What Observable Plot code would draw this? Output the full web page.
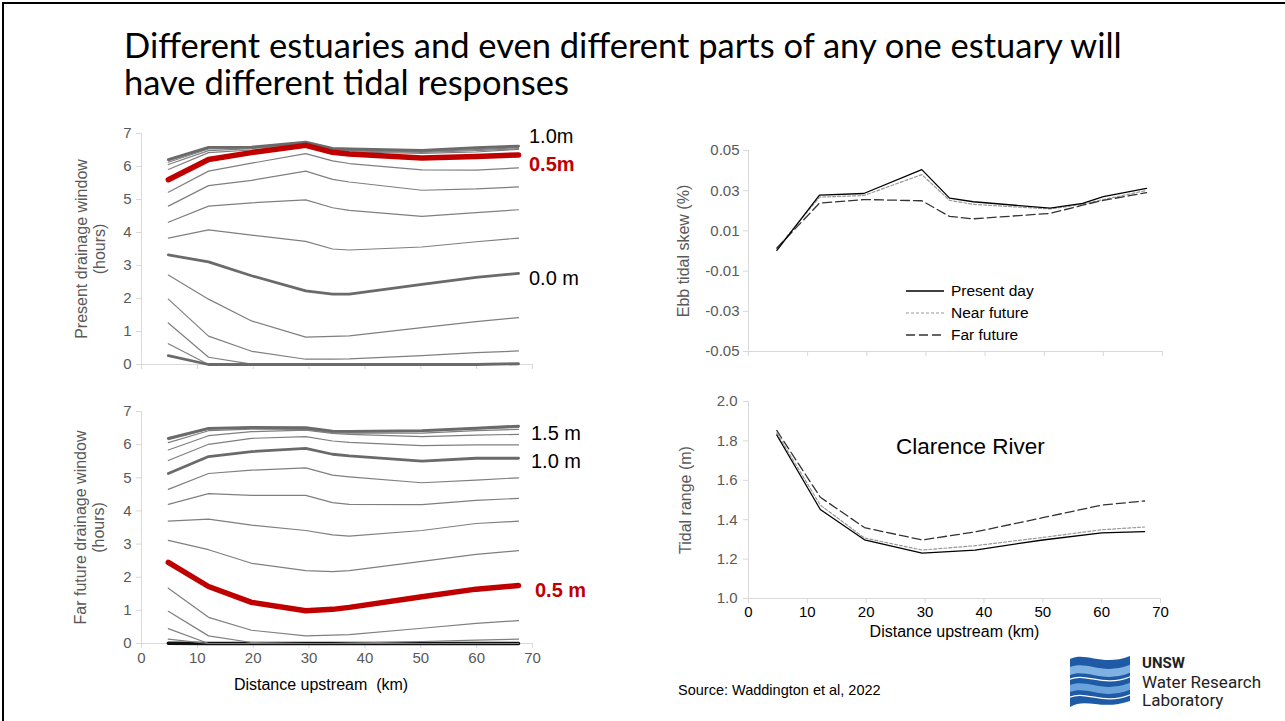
<!DOCTYPE html>
<html><head><meta charset="utf-8">
<script src="https://cdn.jsdelivr.net/npm/d3@7"></script>
<script src="https://cdn.jsdelivr.net/npm/@observablehq/plot@0.6"></script>
<style>
html,body{margin:0;padding:0;background:#fff;}
#slide{position:relative;width:1285px;height:721px;overflow:hidden;background:#fff;font-family:"Liberation Sans",Arial,sans-serif;}
.abs{position:absolute;white-space:nowrap;}
#bt{left:2px;top:2px;width:1283px;height:2px;background:#000}
#bl{left:2px;top:2px;width:2px;height:719px;background:#000}
#title{left:124px;top:26px;font-family:Lato,"Open Sans",sans-serif;font-size:34.5px;line-height:37px;color:#000}
.lvl{font-size:20px;line-height:20px;color:#000}
.red{color:#c00000;font-weight:bold}
#source{left:678px;top:682px;font-size:14.5px;color:#000}
#legend{left:905px;top:280px;font-size:15.5px;color:#000}
#legend div{height:22px;line-height:18px;display:flex;align-items:center}
#legend svg{margin-right:6px}
#clarence{left:896px;top:434px;font-size:22.5px;color:#000}
#logo-text{left:1142px;top:653px;font-family:Roboto,sans-serif;color:#222}
</style>
</head><body>
<div id="slide">
  <div id="bt" class="abs"></div>
  <div id="bl" class="abs"></div>
  <div id="title" class="abs">Different estuaries and even different parts of any one estuary will<br>have different tidal responses</div>
  <div id="tl" class="abs" style="left:60px;top:120px"></div>
  <div id="bl2" class="abs" style="left:60px;top:395px"></div>
  <div id="tr" class="abs" style="left:660px;top:130px"></div>
  <div id="br" class="abs" style="left:660px;top:385px"></div>
  <div class="abs lvl" style="left:529px;top:126px">1.0m</div>
  <div class="abs lvl red" style="left:529px;top:154px">0.5m</div>
  <div class="abs lvl" style="left:529px;top:268px">0.0 m</div>
  <div class="abs lvl" style="left:531px;top:423px">1.5 m</div>
  <div class="abs lvl" style="left:531px;top:451px">1.0 m</div>
  <div class="abs lvl red" style="left:535px;top:580px">0.5 m</div>
  <div id="clarence" class="abs">Clarence River</div>
  <div id="legend" class="abs">
    <div><svg width="40" height="4"><line x1="1" y1="2" x2="39" y2="2" stroke="#000" stroke-width="1.3"/></svg>Present day</div>
    <div><svg width="40" height="4"><line x1="1" y1="2" x2="39" y2="2" stroke="#999" stroke-width="1.2" stroke-dasharray="3,2"/></svg>Near future</div>
    <div><svg width="40" height="4"><line x1="1" y1="2" x2="39" y2="2" stroke="#333" stroke-width="1.3" stroke-dasharray="9,4"/></svg>Far future</div>
  </div>
  <div id="source" class="abs">Source: Waddington et al, 2022</div>
  <svg class="abs" style="left:1068px;top:653px" width="64" height="58" viewBox="0 0 64 58">
    <defs><clipPath id="flag"><path d="M2,6 C18,-2 34,14 62,3 L62,48 C34,58 18,44 2,54 Z"/></clipPath></defs>
    <g clip-path="url(#flag)">
      <rect x="0" y="0" width="64" height="58" fill="#1f5aa6"/>
      <path d="M0,15 C18,6 34,24 64,11 L64,19 C34,32 18,14 0,23 Z" fill="#7fb2e3"/>
      <path d="M0,33 C18,24 34,42 64,29 L64,36 C34,49 18,31 0,40 Z" fill="#6aa2dc"/>
      <path d="M0,27 C18,18 34,36 64,23" stroke="#fff" stroke-width="1.3" fill="none"/>
      <path d="M0,45 C18,36 34,54 64,41" stroke="#fff" stroke-width="1.3" fill="none"/>
    </g>
  </svg>
  <div id="logo-text" class="abs">
    <div style="font-weight:bold;font-size:15px;line-height:20px">UNSW</div>
    <div style="font-size:17px;line-height:18px">Water Research</div>
    <div style="font-size:17px;line-height:18px">Laboratory</div>
  </div>
</div>
<script>
// ---------- Data ----------
const kmDrain = [4.8, 12, 19.7, 29.4, 34.2, 37.2, 50.2, 59.9, 67.5];

const presentLevels = ["-0.5","-0.4","-0.3","-0.2","-0.1","0.0","0.1","0.2","0.3","0.4","0.5","0.6","0.7","0.8","0.9","1.0"];
const presentWindow = [
  [0.27, 0, 0, 0, 0, 0, 0, 0, 0.02],
  [0.63, 0, 0, 0, 0, 0, 0, 0, 0],
  [1.26, 0.22, 0.01, 0, 0, 0, 0.02, 0.03, 0.04],
  [1.98, 0.86, 0.40, 0.16, 0.16, 0.17, 0.27, 0.36, 0.41],
  [2.71, 1.98, 1.32, 0.83, 0.85, 0.87, 1.12, 1.30, 1.42],
  [3.32, 3.11, 2.69, 2.23, 2.13, 2.13, 2.43, 2.64, 2.76],
  [3.83, 4.08, 3.92, 3.73, 3.50, 3.47, 3.56, 3.72, 3.83],
  [4.31, 4.80, 4.90, 4.99, 4.75, 4.67, 4.49, 4.60, 4.69],
  [4.80, 5.42, 5.58, 5.86, 5.61, 5.53, 5.28, 5.32, 5.38],
  [5.22, 5.86, 6.10, 6.39, 6.17, 6.09, 5.90, 5.89, 5.96],
  [5.60, 6.21, 6.42, 6.64, 6.43, 6.38, 6.26, 6.30, 6.35],
  [5.91, 6.42, 6.50, 6.66, 6.47, 6.44, 6.40, 6.44, 6.52],
  [6.06, 6.48, 6.54, 6.68, 6.49, 6.47, 6.43, 6.48, 6.54],
  [6.13, 6.53, 6.56, 6.70, 6.51, 6.49, 6.45, 6.51, 6.57],
  [6.18, 6.56, 6.58, 6.72, 6.53, 6.51, 6.47, 6.54, 6.60],
  [6.21, 6.58, 6.59, 6.74, 6.55, 6.53, 6.49, 6.57, 6.62]
];

const farLevels = ["0.0","0.1","0.2","0.3","0.4","0.5","0.6","0.7","0.8","0.9","1.0","1.1","1.2","1.3","1.4","1.5"];
const farWindow = [
  [0.01, 0, 0, 0, 0, 0, 0, 0, 0],
  [0.13, 0, 0, 0, 0, 0, 0, 0, 0],
  [0.45, 0, 0, 0, 0, 0, 0, 0, 0],
  [0.97, 0.23, 0.03, 0, 0, 0.01, 0.06, 0.10, 0.13],
  [1.67, 0.79, 0.40, 0.23, 0.25, 0.27, 0.46, 0.61, 0.69],
  [2.45, 1.72, 1.24, 0.99, 1.03, 1.09, 1.41, 1.64, 1.75],
  [3.11, 2.83, 2.42, 2.20, 2.17, 2.20, 2.48, 2.69, 2.80],
  [3.69, 3.75, 3.57, 3.41, 3.28, 3.24, 3.41, 3.62, 3.69],
  [4.20, 4.52, 4.47, 4.47, 4.25, 4.20, 4.19, 4.32, 4.38],
  [4.65, 5.13, 5.23, 5.30, 5.08, 5.03, 4.85, 4.93, 5.00],
  [5.13, 5.64, 5.79, 5.89, 5.71, 5.66, 5.50, 5.59, 5.59],
  [5.52, 6.01, 6.19, 6.24, 6.11, 6.07, 5.97, 5.99, 5.99],
  [5.84, 6.27, 6.39, 6.44, 6.34, 6.31, 6.24, 6.29, 6.31],
  [6.06, 6.42, 6.47, 6.46, 6.36, 6.35, 6.35, 6.42, 6.46],
  [6.15, 6.47, 6.50, 6.49, 6.39, 6.38, 6.40, 6.47, 6.52],
  [6.19, 6.49, 6.52, 6.51, 6.41, 6.40, 6.42, 6.50, 6.56]
];

const kmSkew = [4.8, 12, 19.5, 29.3, 34, 38, 51, 56.5, 60, 67.3];
const skewPresent = [0.0003, 0.0278, 0.0286, 0.0405, 0.0263, 0.0245, 0.0213, 0.0237, 0.0270, 0.0312];
const skewNear    = [0.0012, 0.0268, 0.0276, 0.0380, 0.0252, 0.0232, 0.0209, 0.0233, 0.0256, 0.0301];
const skewFar     = [0.0015, 0.0238, 0.0256, 0.0250, 0.0172, 0.0160, 0.0187, 0.0228, 0.0252, 0.0290];

const kmRange = [4.8, 12.2, 19.7, 29.5, 38.5, 50, 60, 67.3];
const rangePresent = [1.830, 1.452, 1.298, 1.230, 1.246, 1.297, 1.333, 1.339];
const rangeNear    = [1.840, 1.474, 1.307, 1.246, 1.268, 1.310, 1.349, 1.363];
const rangeFar     = [1.853, 1.514, 1.360, 1.297, 1.338, 1.410, 1.474, 1.495];

const xTicks = d3.range(0, 80, 10);
const drainTicks = d3.range(0, 8);
const skewTicks = [-0.05, -0.03, -0.01, 0.01, 0.03, 0.05];
const rangeTicks = [1.0, 1.2, 1.4, 1.6, 1.8, 2.0];

// ---------- Helpers ----------
const baseStyle = {background:"transparent", fontFamily:"'Liberation Sans', Arial, sans-serif", fontSize:"15px", color:"#595959", overflow:"visible"};
const grey = "#d9d9d9";
function tidy(levels, values, km) {
  return levels.flatMap((lv, i) => km.map((k, j) => ({level: lv, km: k, v: values[i][j]})));
}
function series(km, vals) { return km.map((k, i) => ({km: k, v: vals[i]})); }

function drainage({el, levels, values, thick, red, black, ylabel, height, marginTop, marginBottom, xLabels, xTitle, labelDx}) {
  const rows = tidy(levels, values, kmDrain);
  const thin = rows.filter(d => !thick.includes(d.level) && d.level !== red && d.level !== black);
  const marks = [
    Plot.ruleX([0], {stroke: grey}),
    Plot.ruleY([0], {stroke: grey}),
    Plot.axisY({ticks: drainTicks, tickFormat: d => String(d), tickSize: 5, tickPadding: 5, stroke: grey, fill: "#595959", label: null}),
    Plot.axisX({ticks: xTicks, tickSize: 5, tickPadding: 4, stroke: grey, fill: "#595959", label: null,
                tickFormat: xLabels ? (d => String(d)) : (() => "")})
  ];
  if (black) marks.push(Plot.line(rows.filter(d => d.level === black), {x: "km", y: "v", stroke: "#111", strokeWidth: 3.5}));
  marks.push(
    Plot.line(thin, {x: "km", y: "v", z: "level", stroke: "#7f7f7f", strokeWidth: 1.2}),
    Plot.line(rows.filter(d => thick.includes(d.level)), {x: "km", y: "v", z: "level", stroke: "#6a6a6a", strokeWidth: 2.8}),
    Plot.line(rows.filter(d => d.level === red), {x: "km", y: "v", stroke: "#c00000", strokeWidth: 5.5, strokeLinecap: "round", strokeLinejoin: "round"}),
    Plot.text([ylabel], {frameAnchor: "left", rotate: -90, dx: labelDx, textAnchor: "middle", fill: "#595959", fontSize: 16, lineHeight: 1.08})
  );
  if (xTitle) marks.push(Plot.text([xTitle], {frameAnchor: "bottom", dx: -16, dy: 46, fill: "#000", fontSize: 16}));
  const p = Plot.plot({
    width: 560, height, marginLeft: 81, marginRight: 88, marginTop, marginBottom,
    x: {domain: [0, 70]}, y: {domain: [0, 7]},
    style: baseStyle, marks
  });
  document.getElementById(el).appendChild(p);
}

drainage({el: "tl", levels: presentLevels, values: presentWindow, thick: ["1.0", "0.0", "-0.5"], red: "0.5", black: null,
  ylabel: "Present drainage window\n(hours)", height: 260, marginTop: 13, marginBottom: 16, xLabels: false, labelDx: -51});
drainage({el: "bl2", levels: farLevels, values: farWindow, thick: ["1.5", "1.0"], red: "0.5", black: "0.0",
  ylabel: "Far future drainage window\n(hours)", height: 310, marginTop: 16, marginBottom: 62, xLabels: true,
  xTitle: "Distance upstream  (km)", labelDx: -52});

function scenarioLines(km, pres, near, far) {
  return [
    Plot.line(series(km, near), {x: "km", y: "v", stroke: "#999", strokeWidth: 1.2, strokeDasharray: "3,2"}),
    Plot.line(series(km, far), {x: "km", y: "v", stroke: "#333", strokeWidth: 1.3, strokeDasharray: "9,4"}),
    Plot.line(series(km, pres), {x: "km", y: "v", stroke: "#000", strokeWidth: 1.3})
  ];
}

// Ebb tidal skew
document.getElementById("tr").appendChild(Plot.plot({
  width: 560, height: 235, marginLeft: 88, marginRight: 58, marginTop: 20, marginBottom: 14,
  x: {domain: [0, 70]}, y: {domain: [-0.05, 0.05]},
  style: baseStyle,
  marks: [
    Plot.ruleX([0], {stroke: grey}),
    Plot.ruleY([-0.05], {stroke: grey}),
    Plot.axisY({ticks: skewTicks, tickFormat: d => d.toFixed(2), tickSize: 5, tickPadding: 4, stroke: grey, fill: "#595959", label: null}),
    Plot.axisX({ticks: xTicks, tickSize: 5, tickFormat: () => "", stroke: grey, label: null}),
    ...scenarioLines(kmSkew, skewPresent, skewNear, skewFar),
    Plot.text(["Ebb tidal skew (%)"], {frameAnchor: "left", rotate: -90, dx: -65, textAnchor: "middle", fill: "#595959", fontSize: 16})
  ]
}));

// Tidal range
document.getElementById("br").appendChild(Plot.plot({
  width: 560, height: 260, marginLeft: 88, marginRight: 60, marginTop: 16, marginBottom: 47,
  x: {domain: [0, 70]}, y: {domain: [1, 2]},
  style: baseStyle,
  marks: [
    Plot.ruleX([0], {stroke: grey}),
    Plot.ruleY([1], {stroke: grey}),
    Plot.axisY({ticks: rangeTicks, tickFormat: d => d.toFixed(1), tickSize: 5, tickPadding: 6, stroke: grey, fill: "#595959", label: null}),
    Plot.axisX({ticks: xTicks, tickSize: 5, tickPadding: 3, stroke: grey, fill: "#000", label: null}),
    ...scenarioLines(kmRange, rangePresent, rangeNear, rangeFar),
    Plot.text(["Tidal range (m)"], {frameAnchor: "left", rotate: -90, dx: -63, textAnchor: "middle", fill: "#595959", fontSize: 16}),
    Plot.text(["Distance upstream (km)"], {frameAnchor: "bottom", dy: 38, fill: "#000", fontSize: 16})
  ]
}));
</script>
</body></html>
